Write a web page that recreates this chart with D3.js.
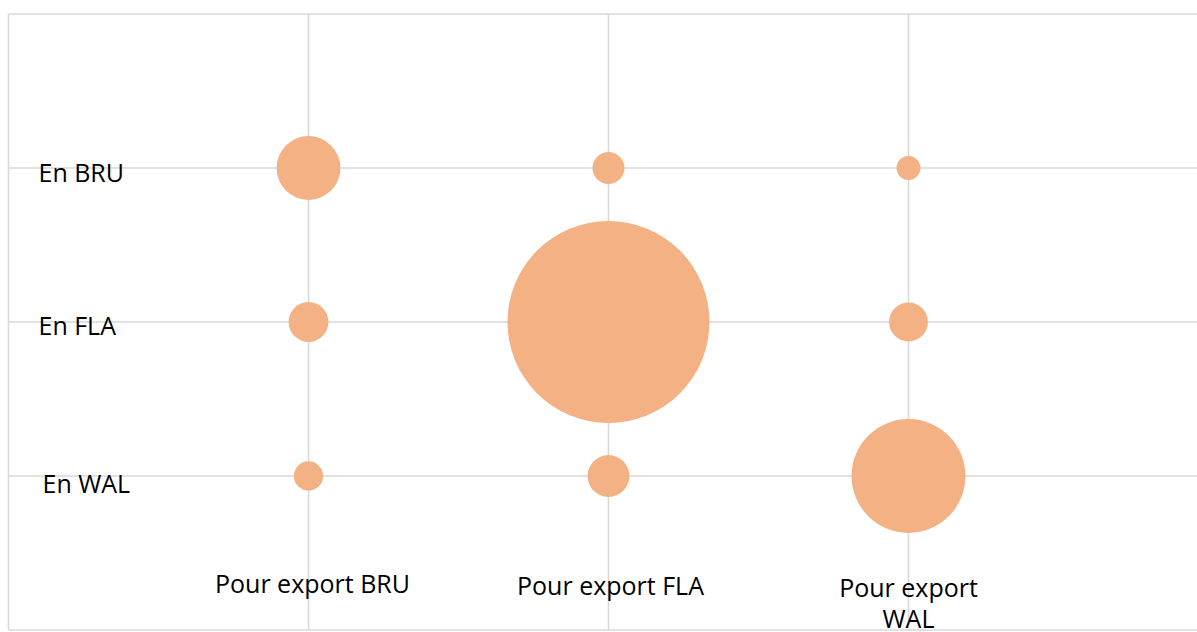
<!DOCTYPE html>
<html>
<head>
<meta charset="utf-8">
<script src="https://cdn.jsdelivr.net/npm/d3@7"></script>
<style>
  body { margin: 0; background: #fff; }
  svg { display: block; }
  text { font-family: "Open Sans", sans-serif; fill: #000; }
</style>
</head>
<body>
<svg id="chart" width="1197" height="632"></svg>
<script>
// columns = where it goes, rows = where it comes from
var exportLabels = ["Pour export BRU", "Pour export FLA", "Pour export WAL"];
var originLabels = ["En BRU", "En FLA", "En WAL"];
var exportPos = [1, 2, 3];
var originPos = [3, 2, 1];

// bubble sizes, row by row (En BRU, En FLA, En WAL)
var valuesBRU = [10.0, 2.5, 1.4];
var valuesFLA = [3.9, 100, 3.7];
var valuesWAL = [2.1, 4.3, 31.8];

var rows = [valuesBRU, valuesFLA, valuesWAL];
var bubbles = [];
rows.forEach(function(row, i){
  row.forEach(function(v, j){
    bubbles.push({ x: exportPos[j], y: originPos[i], value: v });
  });
});

var svg = d3.select("#chart");

var x = d3.scaleLinear().domain([0, 4]).range([8.5, 1208.5]);
var y = d3.scaleLinear().domain([0, 4]).range([630, 14]);
var r = d3.scaleSqrt().domain([0, 100]).range([0, 101]);

var grid = svg.append("g").attr("class", "grid");

grid.selectAll(".vline")
  .data(d3.range(0, 5))
  .enter().append("line")
  .attr("x1", function(d){ return x(d); })
  .attr("x2", function(d){ return x(d); })
  .attr("y1", y(0)).attr("y2", y(4))
  .attr("stroke", "#d9d9d9").attr("stroke-width", 1.6);

grid.selectAll(".hline")
  .data(d3.range(0, 5))
  .enter().append("line")
  .attr("y1", function(d){ return y(d); })
  .attr("y2", function(d){ return y(d); })
  .attr("x1", x(0)).attr("x2", x(4))
  .attr("stroke", "#d9d9d9").attr("stroke-width", 1.6);

svg.append("g").selectAll("circle")
  .data(bubbles)
  .enter().append("circle")
  .attr("cx", function(d){ return x(d.x); })
  .attr("cy", function(d){ return y(d.y); })
  .attr("r", function(d){ return r(d.value); })
  .attr("fill", "#f4b183");

// row labels (baseline offsets from the grid line)
var rowOffsetX = [30, 30, 34];
var rowOffsetY = [14, 13, 17];
svg.append("g").selectAll("text")
  .data(originLabels)
  .enter().append("text")
  .attr("x", function(d, i){ return x(0) + rowOffsetX[i]; })
  .attr("y", function(d, i){ return y(originPos[i]) + rowOffsetY[i]; })
  .attr("font-size", 25)
  .text(function(d){ return d; });

// column labels, the last one wraps
var colLines = [["Pour export BRU"], ["Pour export FLA"], ["Pour export", "WAL"]];
var colOffsetX = [4, 2, 0];
var colOffsetY = [-37, -35, -33];
var colText = svg.append("g").selectAll("text")
  .data(colLines)
  .enter().append("text")
  .attr("text-anchor", "middle")
  .attr("font-size", 25)
  .attr("x", function(d, i){ return x(exportPos[i]) + colOffsetX[i]; })
  .attr("y", function(d, i){ return y(0) + colOffsetY[i]; });

colText.selectAll("tspan")
  .data(function(d){ return d; })
  .enter().append("tspan")
  .attr("x", function(){ return d3.select(this.parentNode).attr("x"); })
  .attr("dy", function(d, k){ return k === 0 ? 0 : 31; })
  .text(function(d){ return d; });
</script>
</body>
</html>
